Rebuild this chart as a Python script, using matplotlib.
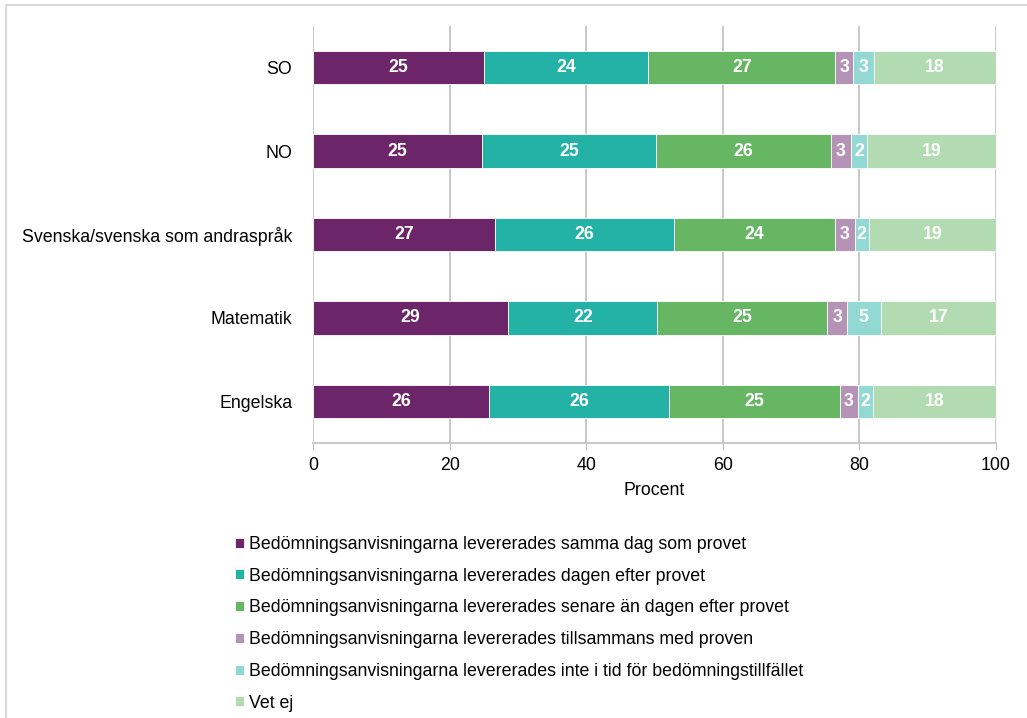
import matplotlib.pyplot as plt
from matplotlib.lines import Line2D
import numpy as np

plt.rcParams['font.family'] = ['Liberation Sans', 'DejaVu Sans']

# Data (top to bottom as shown)
subjects = ['SO', 'NO', 'Svenska/svenska som andraspråk', 'Matematik', 'Engelska']
series_names = ['Bedömningsanvisningarna levererades samma dag som provet',
                'Bedömningsanvisningarna levererades dagen efter provet',
                'Bedömningsanvisningarna levererades senare än dagen efter provet',
                'Bedömningsanvisningarna levererades tillsammans med proven',
                'Bedömningsanvisningarna levererades inte i tid för bedömningstillfället',
                'Vet ej']
samma_dag = [25.1, 24.8, 26.6, 28.6, 25.8]
dagen_efter = [24.0, 25.4, 26.2, 21.8, 26.3]
senare = [27.4, 25.6, 23.7, 24.9, 25.0]
tillsammans = [2.6, 3.0, 2.8, 2.9, 2.7]
inte_i_tid = [3.1, 2.3, 2.1, 4.9, 2.2]
vet_ej = [17.8, 18.9, 18.6, 16.9, 18.0]
colors = ['#6B2568', '#24B2A7', '#66B663', '#B593B6', '#93D9D3', '#B2DBB1']

series = [samma_dag, dagen_efter, senare, tillsammans, inte_i_tid, vet_ej]
FS = 12.8

fig = plt.figure(figsize=[10.27, 7.18], dpi=100)
ax = fig.add_axes([313/1027, 1-443.25/718, (996-313)/1027, (443.25-25.75)/718])

y = np.arange(len(subjects))
left = np.zeros(len(subjects))
handles = []
for vals, name, col in zip(series, series_names, colors):
    vals = np.array(vals)
    b = ax.barh(y, vals, left=left, height=0.4, color=col, edgecolor='white', linewidth=0.6, label=name, zorder=3)
    handles.append(b)
    for yi, l, v in zip(y, left, vals):
        ax.text(l+v/2, yi, '%d' % round(v), ha='center', va='center', color='white',
                fontsize=FS, fontweight='bold', zorder=4)
    left = left+vals

ax.set_xlim(0, 100)
ax.set_ylim(len(subjects)-0.5, -0.5)
ax.set_yticks(y)
ax.set_yticklabels(subjects, fontsize=FS)
ax.tick_params(axis='y', length=0, pad=15)
ax.set_xticks(range(0, 101, 20))
ax.tick_params(axis='x', length=5, color='#BFBFBF', labelsize=FS, pad=5)
ax.xaxis.grid(True, color='#BFBFBF', linewidth=1.2, zorder=0)
for s in ['top', 'right', 'left']:
    ax.spines[s].set_visible(False)
ax.spines['bottom'].set_color('#BFBFBF')
ax.spines['bottom'].set_linewidth(1.2)
ax.set_xlabel('Procent', fontsize=FS, labelpad=6)

fig.legend(handles=handles, loc='upper left', bbox_to_anchor=(226/1027, 1-527/718),
           frameon=False, fontsize=FS, handlelength=0.5, handleheight=0.5,
           handletextpad=0.3, labelspacing=0.83, borderpad=0)

# chart frame (top and left edges)
fig.add_artist(Line2D([6/1027, 1], [1-5/718, 1-5/718], color='#D9D9D9', linewidth=1.5))
fig.add_artist(Line2D([6/1027, 6/1027], [0, 1-5/718], color='#D9D9D9', linewidth=1.5))

plt.savefig('out.png', dpi=100)
